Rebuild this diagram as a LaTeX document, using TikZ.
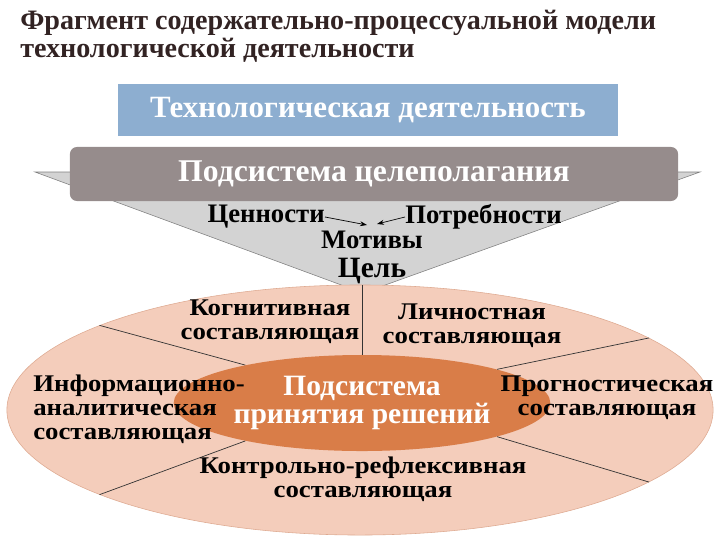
\documentclass[tikz,border=0pt]{standalone}
\usepackage{fontspec}
\setmainfont{Liberation Serif}[BoldFont={Liberation Serif Bold}]
\usetikzlibrary{shapes.geometric,arrows.meta}

\definecolor{techblue}{RGB}{141,174,208}
\definecolor{goalgrey}{RGB}{150,140,140}
\definecolor{funnelgrey}{RGB}{211,211,211}
\definecolor{ovalpeach}{RGB}{244,205,187}
\definecolor{ovaledge}{RGB}{222,170,145}
\definecolor{decorange}{RGB}{217,125,72}
\definecolor{titlebrown}{RGB}{50,35,35}

\tikzset{
  lbl/.style={font=\bfseries\addfontfeature{FakeStretch=1.12}\fontsize{17}{17}\selectfont, align=center, inner sep=0pt},
  trilbl/.style={font=\bfseries\fontsize{19}{19}\selectfont, inner sep=0pt},
  divline/.style={draw=black!80, line width=0.5pt},
}

\begin{document}
\begin{tikzpicture}[x=0.025cm,y=-0.025cm]
\useasboundingbox (0,0) rectangle (720,540);

% title
\node[anchor=north west, align=left, text=titlebrown, inner sep=0pt,
  font=\bfseries\fontsize{20}{20}\selectfont] (title) at (20,10)
  {Фрагмент содержательно-процессуальной модели\\технологической деятельности};

\node[fill=techblue, minimum width=12.5cm, minimum height=1.3cm, text=white,
  font=\bfseries\fontsize{22}{22}\selectfont] (techbox) at (368,110) {Технологическая деятельность};

% funnel
\draw[fill=funnelgrey, draw=black!50, line width=0.4pt] (35,172) -- (700,172) -- (363,293) -- cycle;

\node[fill=goalgrey, rounded corners=5pt, minimum width=15.2cm, minimum height=1.35cm, text=white,
  font=\bfseries\fontsize{22.5}{22.5}\selectfont] (goalbox) at (374,174) {Подсистема целеполагания};

\node[trilbl, anchor=east] (values) at (325,217) {Ценности};
\node[trilbl, anchor=west] (needs) at (405,217) {Потребности};
\node[trilbl] (motives) at (372,240) {Мотивы};
\node[trilbl, font=\bfseries\fontsize{21}{21}\selectfont] (goal) at (372,271) {Цель};
\coordinate (meetl) at (367,225);
\coordinate (meetr) at (377,224);
\draw[-{Stealth[length=5pt,width=3.5pt]}, line width=0.5pt] (values.east) -- (meetl);
\draw[-{Stealth[length=5pt,width=3.5pt]}, line width=0.5pt] (needs.west) -- (meetr);

% ovals
\node[ellipse, fill=ovalpeach, draw=ovaledge, minimum width=17.65cm, minimum height=6.25cm] (bigoval) at (360,410) {};
\node[ellipse, fill=decorange, minimum width=7.25cm, minimum height=2.4cm, text=white, align=center,
  font=\bfseries\fontsize{21}{20}\selectfont] (decoval) at (362,403) {Подсистема\\принятия решений};

\draw[divline] (decoval.north) -- (decoval.north |- bigoval.north);
\draw[divline] (decoval.162) -- (bigoval.162);
\draw[divline] (decoval.14) -- (bigoval.14);
\draw[divline] (decoval.198) -- (bigoval.198);
\draw[divline] (decoval.-14) -- (bigoval.-14);

\node[lbl] (cognitive) at (270,322) {Когнитивная\\составляющая};
\node[lbl] (personal) at (472,326) {Личностная\\составляющая};
\node[lbl, align=left, anchor=west] (info) at (33,409) {Информационно-\\аналитическая\\составляющая};
\node[lbl] (prognostic) at (607,398) {Прогностическая\\составляющая};
\node[lbl] (control) at (363,479) {Контрольно-рефлексивная\\составляющая};
\end{tikzpicture}
\end{document}
